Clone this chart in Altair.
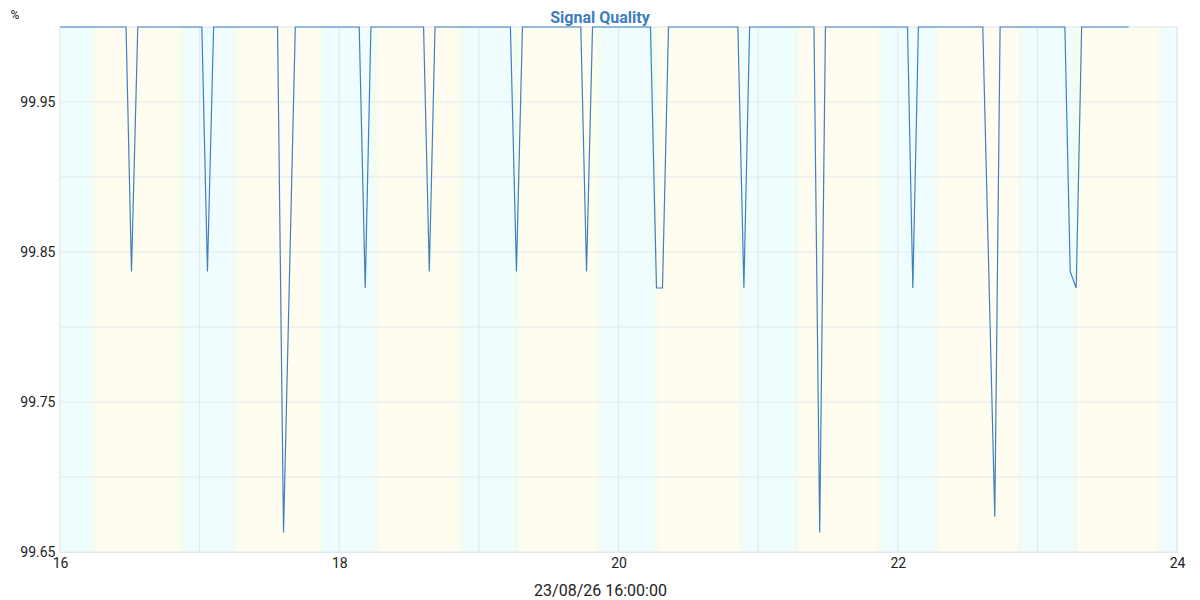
import altair as alt
import pandas as pd

# Line vertices (day of month, % signal quality)
times = [16.000,
         16.473, 16.512, 16.557,
         17.016, 17.056, 17.100,
         17.558, 17.601, 17.685,
         18.143, 18.186, 18.227,
         18.604, 18.645, 18.686,
         19.226, 19.269, 19.312,
         19.730, 19.771, 19.814,
         20.229, 20.272, 20.315, 20.358,
         20.855, 20.898, 20.939,
         21.400, 21.441, 21.482,
         22.070, 22.108, 22.148,
         22.609, 22.695, 22.733,
         23.197, 23.235, 23.278, 23.317,
         23.654]
values = [100.0,
          100.0, 99.837, 100.0,
          100.0, 99.837, 100.0,
          100.0, 99.663, 100.0,
          100.0, 99.826, 100.0,
          100.0, 99.837, 100.0,
          100.0, 99.837, 100.0,
          100.0, 99.837, 100.0,
          100.0, 99.826, 99.826, 100.0,
          100.0, 99.826, 100.0,
          100.0, 99.663, 100.0,
          100.0, 99.826, 100.0,
          100.0, 99.6735, 100.0,
          100.0, 99.837, 99.826, 100.0,
          100.0]

# Day (sunrise -> sunset) and night background bands
day_starts = [16.237, 17.254, 18.258, 19.270, 20.265, 21.276, 22.272, 23.276]
day_ends = [16.875, 17.871, 18.875, 19.864, 20.875, 21.878, 22.875, 23.878]

x_ticks = [16, 17, 18, 19, 20, 21, 22, 23, 24]
y_ticks = [99.65, 99.70, 99.75, 99.80, 99.85, 99.90, 99.95, 100.0]
y_labels = [99.65, 99.75, 99.85, 99.95]

title_text = "Signal Quality"
unit_text = "%"
x_title = "23/08/26 16:00:00"

XMIN, XMAX = 16, 24
YMIN, YMAX = 99.65, 100.0
W, H = 1117, 525

line_df = pd.DataFrame({"t": times, "v": values})

night_df = pd.DataFrame({"a": [XMIN] + day_ends, "b": day_starts + [XMAX]})
day_df = pd.DataFrame({"a": day_starts, "b": day_ends})

TW = 0.03  # half width of the colour transition
sunrise_df = pd.DataFrame({"a": [d - TW for d in day_starts], "b": [d + TW for d in day_starts]})
sunset_df = pd.DataFrame({"a": [d - TW for d in day_ends], "b": [d + TW for d in day_ends]})

xgrid_df = pd.DataFrame({"x": x_ticks})
ygrid_df = pd.DataFrame({"y": y_ticks})

CYAN = "#effdfe"
YELLOW = "#fffdf0"
GREEN = "#f1fdee"
GRID = "#e4e7ea"

xscale = alt.Scale(domain=[XMIN, XMAX], nice=False, zero=False)
yscale = alt.Scale(domain=[YMIN, YMAX], nice=False, zero=False)

xaxis = alt.Axis(values=x_ticks, grid=False, domain=False, ticks=False,
                 format="d",
                 labelExpr="datum.value % 2 == 0 ? datum.label : ''",
                 labelFont="Roboto", labelFontSize=14, labelColor="#222222",
                 labelPadding=4, labelFlush=False,
                 title=x_title, titleFont="Roboto", titleFontSize=16,
                 titleFontWeight="normal", titleColor="#222222",
                 titleX=540, titleY=38, titleAlign="center", titleBaseline="middle")

yaxis = alt.Axis(values=y_labels, grid=False, domain=False, ticks=False,
                 format=".2f",
                 labelFont="Roboto", labelFontSize=14, labelColor="#222222",
                 labelPadding=5, labelFlush=False, title=None)

band_y = dict(y=alt.value(0), y2=alt.value(H))

night = alt.Chart(night_df).mark_rect(color=CYAN).encode(
    x=alt.X("a:Q", scale=xscale, axis=xaxis), x2="b:Q", **band_y)
day = alt.Chart(day_df).mark_rect(color=YELLOW).encode(
    x=alt.X("a:Q", scale=xscale), x2="b:Q", **band_y)
sunrise = alt.Chart(sunrise_df).mark_rect(
    color=alt.Gradient(gradient="linear", x1=0, x2=1, y1=0, y2=0,
                       stops=[alt.GradientStop(color=CYAN, offset=0),
                              alt.GradientStop(color=GREEN, offset=0.5),
                              alt.GradientStop(color=YELLOW, offset=1)])
).encode(x=alt.X("a:Q", scale=xscale), x2="b:Q", **band_y)
sunset = alt.Chart(sunset_df).mark_rect(
    color=alt.Gradient(gradient="linear", x1=0, x2=1, y1=0, y2=0,
                       stops=[alt.GradientStop(color=YELLOW, offset=0),
                              alt.GradientStop(color=GREEN, offset=0.5),
                              alt.GradientStop(color=CYAN, offset=1)])
).encode(x=alt.X("a:Q", scale=xscale), x2="b:Q", **band_y)

xgrid = alt.Chart(xgrid_df).mark_rule(color=GRID, strokeWidth=1.2).encode(
    x=alt.X("x:Q", scale=xscale), y=alt.value(0), y2=alt.value(H))
ygrid = alt.Chart(ygrid_df).mark_rule(color=GRID, strokeWidth=1.2).encode(
    y=alt.Y("y:Q", scale=yscale, axis=yaxis), x=alt.value(0), x2=alt.value(W))

line = alt.Chart(line_df).mark_line(color="#3f80c0", strokeWidth=1.2).encode(
    x=alt.X("t:Q", scale=xscale, axis=xaxis),
    y=alt.Y("v:Q", scale=yscale, axis=yaxis),
)

title = alt.Chart(pd.DataFrame({"s": [title_text]})).mark_text(
    font="Roboto", fontSize=16, fontWeight="bold", color="#3b7dbd",
    align="center", baseline="middle"
).encode(text="s:N", x=alt.value(540), y=alt.value(-9))

unit = alt.Chart(pd.DataFrame({"s": [unit_text]})).mark_text(
    font="Roboto", fontSize=12, color="#222222", align="center", baseline="middle"
).encode(text="s:N", x=alt.value(-45), y=alt.value(-12))

chart = alt.layer(night, day, sunrise, sunset, xgrid, ygrid, line, title, unit).properties(
    width=W, height=H,
    autosize=alt.AutoSizeParams(type="none"),
    padding={"left": 52, "top": 19, "right": 15, "bottom": 48},
).configure_view(stroke=GRID, strokeWidth=1.2)

chart.save("out.html", embed_options={"renderer": "svg", "actions": False})
